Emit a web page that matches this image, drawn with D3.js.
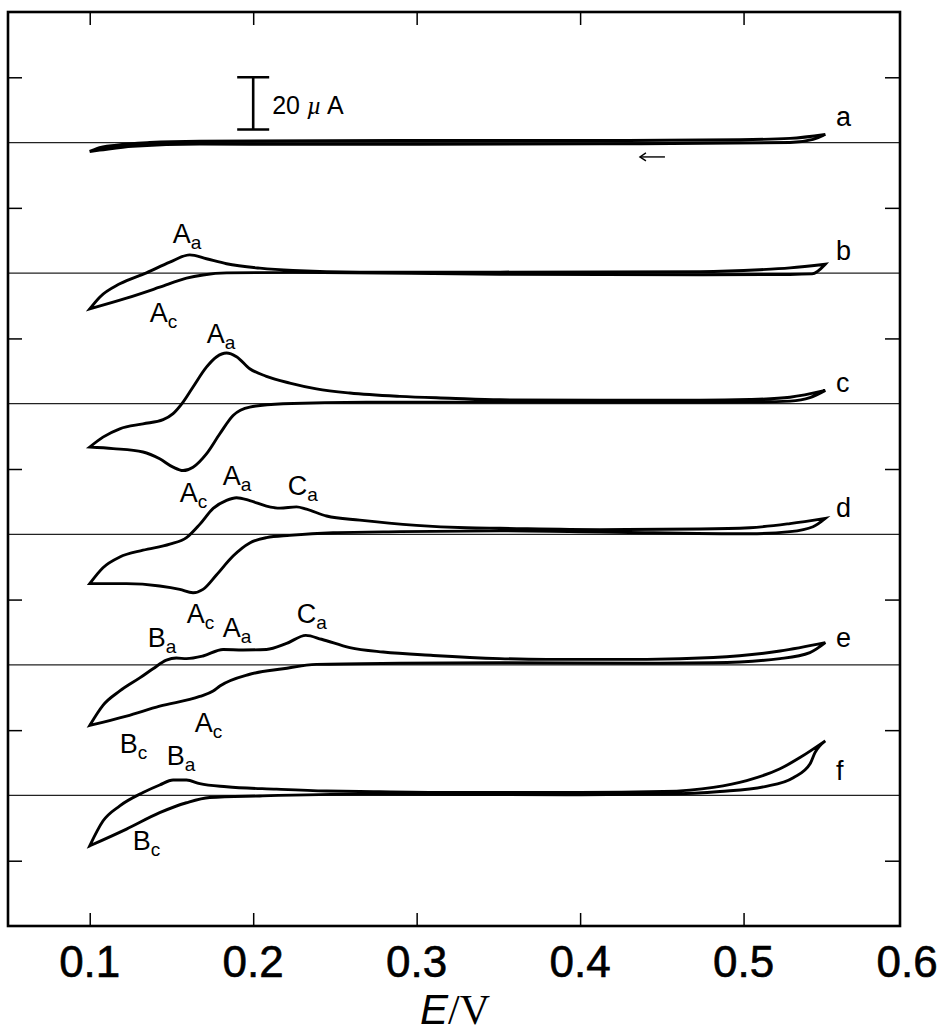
<!DOCTYPE html>
<html>
<head>
<meta charset="utf-8">
<script src="https://cdn.jsdelivr.net/npm/d3@7"></script>
<style>
  html, body { margin: 0; padding: 0; background: #fff; }
  svg { display: block; }
  text { font-family: "Liberation Sans", Arial, Helvetica, sans-serif; fill: #000; }
</style>
</head>
<body>
<svg id="chart" width="939" height="1036"></svg>
<script>
// ---------------- DATA ----------------
// Potential axis (V)
const xTickValues = [0.1, 0.2, 0.3, 0.4, 0.5];
const xTickLabels = [0.1, 0.2, 0.3, 0.4, 0.5, 0.6];
// Current axis (µA, stacked offsets), ticks every 50 µA
const yTickValues = [25, 75, 125, 175, 225, 275, 325];
const curveNames = ["a", "b", "c", "d", "e", "f"];
const curveOffsets = [300, 250, 200, 150, 100, 50];   // µA offset of each trace's zero line

// Each branch: [E (V), I (µA, relative to the trace's zero line)]
// cathodic sweep 0.55 -> 0.10 V, then anodic sweep 0.10 -> 0.55 V
const aCathodic = [[0.55,3.1],[0.5425,1.2],[0.5284,0.0],[0.412,-0.5],[0.2285,-0.7],[0.1673,-0.6],[0.1263,-1.4],[0.1061,-2.9],[0.1,-3.4]];
const aAnodic   = [[0.1,-3.4],[0.1043,-2.3],[0.1163,-1.0],[0.1367,0.0],[0.1673,0.5],[0.29,0.8],[0.412,0.8],[0.4978,1.1],[0.5284,1.6],[0.55,3.1]];

const bCathodic = [[0.55,3.4],[0.5419,-0.3],[0.5284,-0.5],[0.4733,-0.6],[0.351,-0.4],[0.2242,0.3],[0.1837,0.1],[0.1693,-0.7],[0.1592,-1.9],[0.1428,-5.4],[0.1225,-9.6],[0.1,-13.7]];
const bAnodic   = [[0.1,-13.7],[0.1061,-9.2],[0.1184,-4.1],[0.1347,0.1],[0.149,4.2],[0.1612,7.0],[0.1714,5.5],[0.1837,3.6],[0.204,1.9],[0.2244,1.0],[0.2652,0.4],[0.351,0.4],[0.4733,0.6],[0.51,1.3],[0.5284,2.0],[0.55,3.4]];

const cCathodic = [[0.55,5.1],[0.5406,2.3],[0.5284,1.0],[0.5039,0.6],[0.412,0.5],[0.3509,0.6],[0.2693,0.6],[0.2183,0.0],[0.1979,-1.3],[0.1877,-4.5],[0.1796,-11.5],[0.1714,-19.2],[0.1632,-24.3],[0.1571,-25.6],[0.151,-24.3],[0.1428,-21.1],[0.1326,-18.5],[0.1143,-17.2],[0.1,-16.6]];
const cAnodic   = [[0.1,-16.6],[0.1081,-12.8],[0.1184,-9.6],[0.1326,-7.7],[0.1449,-6.1],[0.151,-3.8],[0.1571,0.6],[0.1632,6.4],[0.1714,14.0],[0.1775,17.9],[0.1837,19.4],[0.1898,18.0],[0.1979,13.4],[0.2081,10.5],[0.2224,7.9],[0.2387,5.7],[0.2591,4.1],[0.2897,2.8],[0.3203,2.1],[0.3509,1.5],[0.4121,1.3],[0.4733,1.3],[0.5039,1.6],[0.5284,2.5],[0.55,5.1]];

const dCathodic = [[0.55,6.1],[0.5425,2.9],[0.5284,1.0],[0.5039,0.2],[0.4121,0.9],[0.3509,1.3],[0.2897,1.0],[0.2489,0.6],[0.2224,-0.4],[0.2081,-1.3],[0.1979,-3.3],[0.1877,-8.3],[0.1775,-15.6],[0.1693,-21.1],[0.1632,-22.4],[0.1551,-21.1],[0.1428,-19.8],[0.1225,-18.9],[0.1,-18.9]];
const dAnodic   = [[0.1,-18.9],[0.1081,-12.8],[0.1184,-8.7],[0.1326,-6.1],[0.149,-3.8],[0.1592,-1.3],[0.1673,3.8],[0.1755,9.9],[0.1837,13.0],[0.1898,14.0],[0.1979,12.9],[0.2081,10.8],[0.2163,10.0],[0.2265,10.5],[0.2326,9.6],[0.2449,7.0],[0.2652,5.4],[0.2999,3.4],[0.3305,2.5],[0.3509,2.3],[0.4121,1.8],[0.4733,2.0],[0.5039,2.5],[0.5284,4.1],[0.55,6.1]];

const eCathodic = [[0.55,8.5],[0.5406,4.7],[0.5223,2.4],[0.4815,0.8],[0.4407,0.6],[0.3509,0.8],[0.2897,0.6],[0.2387,0.2],[0.2183,-1.5],[0.1979,-3.6],[0.1796,-8.1],[0.1755,-10.0],[0.1673,-12.1],[0.1428,-15.8],[0.1225,-19.6],[0.1,-23.2]];
const eAnodic   = [[0.1,-23.2],[0.1081,-15.5],[0.1184,-10.0],[0.1306,-5.0],[0.1387,-1.5],[0.1469,1.8],[0.153,2.6],[0.1592,2.4],[0.1693,3.4],[0.1816,5.9],[0.1938,5.7],[0.2081,5.9],[0.2204,8.2],[0.2322,11.3],[0.2418,9.8],[0.2591,6.6],[0.2795,4.9],[0.3101,3.6],[0.3509,2.4],[0.3795,2.1],[0.4407,2.1],[0.4815,2.8],[0.5223,5.3],[0.55,8.5]];

const fCathodic = [[0.55,20.9],[0.5437,16.4],[0.5406,12.0],[0.5304,6.8],[0.5131,3.4],[0.4856,1.5],[0.4509,0.5],[0.3999,0.2],[0.2652,0.5],[0.204,-0.2],[0.1734,-0.8],[0.1592,-2.8],[0.1428,-6.6],[0.1225,-12.9],[0.1,-19.3]];
const fAnodic   = [[0.1,-19.3],[0.1081,-9.8],[0.1184,-4.0],[0.1326,1.1],[0.1428,4.0],[0.151,5.9],[0.1592,5.9],[0.1673,4.5],[0.1837,3.3],[0.2143,2.4],[0.2449,1.7],[0.2652,1.5],[0.3203,1.1],[0.3999,1.1],[0.4509,1.5],[0.4815,3.1],[0.5019,5.7],[0.5223,10.2],[0.5345,14.5],[0.55,20.9]];

const cathodicBranches = [aCathodic, bCathodic, cCathodic, dCathodic, eCathodic, fCathodic];
const anodicBranches   = [aAnodic, bAnodic, cAnodic, dAnodic, eAnodic, fAnodic];

// Peak labels: [main letter, subscript, E (V), y (µA on stacked axis)]
const peakLabels = [
  ["A","a",0.1508,261.5], ["A","c",0.1367,231.3],
  ["A","a",0.1716,223.2],
  ["A","c",0.1551,162.3], ["A","a",0.1814,168.8], ["C","a",0.2212,165.0],
  ["B","a",0.1355,106.8], ["A","c",0.1594,116.0], ["A","a",0.1814,110.6], ["C","a",0.2267,116.0],
  ["A","c",0.1643,74.2], ["B","c",0.1184,66.2],
  ["B","a",0.1471,61.6], ["B","c",0.1263,29.1]
];
const curveLabelE = 0.5565;
const curveLabelY = [306.3, 255.0, 204.5, 156.6, 106.8, 56.0];

// scale bar: 20 µA
const scaleBarE = 0.2;
const scaleBarFrom = 305, scaleBarTo = 325;
const scaleBarText = "20";
const scaleBarUnit = "µ";
// sweep direction arrow
const arrowFromE = 0.4519, arrowToE = 0.4366, arrowY = 294.5;

// ---------------- CHART ----------------
const svg = d3.select("#chart");
svg.append("rect").attr("width", 939).attr("height", 1036).attr("fill", "#fff");

const x = d3.scaleLinear().domain([0.05, 0.5957]).range([8, 900]);
const y = d3.scaleLinear().domain([0, 350]).range([926, 12]);
const [x0, x1] = x.range();
const [yB, yT] = y.range();

// trace zero lines
svg.append("g").selectAll("line").data(curveOffsets).join("line")
  .attr("x1", x0).attr("x2", x1)
  .attr("y1", d => y(d)).attr("y2", d => y(d))
  .attr("stroke", "#222").attr("stroke-width", 1.2);

// ticks (inward)
function styleTicks(g) {
  g.select(".domain").remove();
  g.selectAll(".tick line").attr("stroke", "#000").attr("stroke-width", 1.5);
  g.selectAll(".tick text").remove();
}
svg.append("g").attr("transform", `translate(0,${yB})`)
  .call(d3.axisBottom(x).tickValues(xTickValues).tickSizeInner(-13).tickSizeOuter(0)).call(styleTicks);
svg.append("g").attr("transform", `translate(0,${yT})`)
  .call(d3.axisTop(x).tickValues(xTickValues).tickSizeInner(-13).tickSizeOuter(0)).call(styleTicks);
svg.append("g").attr("transform", `translate(${x0},0)`)
  .call(d3.axisLeft(y).tickValues(yTickValues).tickSizeInner(-14).tickSizeOuter(0)).call(styleTicks);
svg.append("g").attr("transform", `translate(${x1},0)`)
  .call(d3.axisRight(y).tickValues(yTickValues).tickSizeInner(-15).tickSizeOuter(0)).call(styleTicks);

// frame
svg.append("rect").attr("x", x0).attr("y", yT).attr("width", x1 - x0).attr("height", yB - yT)
  .attr("fill", "none").attr("stroke", "#000").attr("stroke-width", 2.6);

// x tick labels
svg.append("g").selectAll("text").data(xTickLabels).join("text")
  .attr("x", d => x(d)).attr("y", 977)
  .attr("text-anchor", "middle").attr("font-size", 44)
  .attr("stroke", "#000").attr("stroke-width", 0.6)
  .text(d => d3.format(".1f")(d));

// axis title E/V
const title = svg.append("text").attr("x", 455).attr("y", 1024).attr("text-anchor", "middle").attr("font-size", 42);
title.append("tspan").attr("font-style", "italic").text("E");
title.append("tspan").attr("font-family", "Liberation Serif, Times New Roman, serif").text("/V");

// CV traces
const line = d3.line().x(d => x(d[0])).y(d => y(d[1])).curve(d3.curveMonotoneX);
curveOffsets.forEach((off, k) => {
  const cath = cathodicBranches[k].map(d => [d[0], off + d[1]]);
  const anod = anodicBranches[k].map(d => [d[0], off + d[1]]);
  const p1 = line(cath);
  const p2 = line(anod).replace(/^M[^A-Za-z]*/, "");
  svg.append("path").attr("d", p1 + p2 + "Z")
    .attr("fill", "none").attr("stroke", "#000").attr("stroke-width", 2.9)
    .attr("stroke-linejoin", "miter").attr("stroke-miterlimit", 4);
});

// curve letters
svg.append("g").selectAll("text").data(curveNames).join("text")
  .attr("x", x(curveLabelE)).attr("y", (d, i) => y(curveLabelY[i]))
  .attr("font-size", 27).text(d => d);

// peak labels
peakLabels.forEach(([m, s, e, v]) => {
  const t = svg.append("text").attr("x", x(e)).attr("y", y(v)).attr("font-size", 27);
  t.append("tspan").text(m);
  t.append("tspan").attr("font-size", 19).attr("dy", 6).text(s);
});

// scale bar
const sb = svg.append("g").attr("stroke", "#000").attr("stroke-width", 2.6);
sb.append("line").attr("x1", x(scaleBarE)).attr("x2", x(scaleBarE)).attr("y1", y(scaleBarFrom)).attr("y2", y(scaleBarTo));
sb.append("line").attr("x1", x(scaleBarE) - 16).attr("x2", x(scaleBarE) + 16).attr("y1", y(scaleBarFrom)).attr("y2", y(scaleBarFrom));
sb.append("line").attr("x1", x(scaleBarE) - 16).attr("x2", x(scaleBarE) + 16).attr("y1", y(scaleBarTo)).attr("y2", y(scaleBarTo));
const sbt = svg.append("text").attr("x", x(scaleBarE) + 19).attr("y", y(scaleBarFrom) - 16).attr("font-size", 25);
sbt.append("tspan").text(scaleBarText + " ");
sbt.append("tspan").attr("font-style", "italic").attr("font-family", "Liberation Serif, Times New Roman, serif").text(scaleBarUnit);
sbt.append("tspan").text(" A");

// direction arrow
const ag = svg.append("g").attr("stroke", "#000").attr("stroke-width", 1.4).attr("fill", "none");
ag.append("line").attr("x1", x(arrowFromE)).attr("x2", x(arrowToE)).attr("y1", y(arrowY)).attr("y2", y(arrowY));
ag.append("path").attr("d", `M${x(arrowToE) + 6},${y(arrowY) - 4} L${x(arrowToE)},${y(arrowY)} L${x(arrowToE) + 6},${y(arrowY) + 4}`);
</script>
</body>
</html>
